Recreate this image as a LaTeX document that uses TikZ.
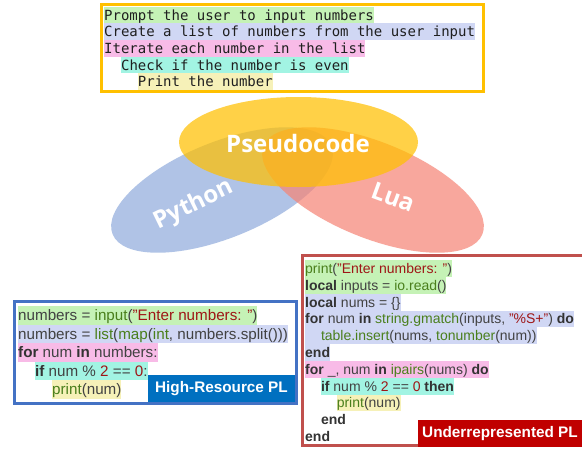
\documentclass[tikz,border=0pt]{standalone}
\usepackage{fontspec}
\setmainfont{Liberation Sans}
\newfontfamily\pmono{DejaVu Sans Mono}
\newfontfamily\elfont{Open Sans}
\definecolor{boxyellow}{HTML}{FFC000}
\definecolor{boxblue}{HTML}{4472C4}
\definecolor{boxred}{HTML}{C0504D}
\definecolor{labblue}{HTML}{0070C0}
\definecolor{labred}{HTML}{C00000}
\definecolor{ellblue}{HTML}{8FAADC}
\definecolor{ellred}{HTML}{F68374}
\definecolor{ellyellow}{HTML}{FFC000}
\definecolor{hgreen}{HTML}{C5F2B6}
\definecolor{hlav}{HTML}{D0D7F4}
\definecolor{hpink}{HTML}{F8BBE7}
\definecolor{haqua}{HTML}{A2F4E3}
\definecolor{hyel}{HTML}{F6F1B8}
\definecolor{codec}{HTML}{424242}
\definecolor{kwc}{HTML}{333333}
\definecolor{fnc}{HTML}{4A7F1C}
\definecolor{stc}{HTML}{9E1616}
\newcommand{\ckw}[1]{{\bfseries\color{kwc}#1}}
\newcommand{\cfn}[1]{{\color{fnc}#1}}
\newcommand{\cst}[1]{{\color{stc}#1}}
\begin{document}
\begin{tikzpicture}[x=1pt,y=-1pt,
  pline/.style={anchor=north west, inner sep=0pt, text height=13.5pt, text depth=3.1pt,
    font=\pmono\fontsize{14}{16}\selectfont, text=black!88},
  pyline/.style={anchor=north west, inner sep=0pt, text height=14.3pt, text depth=4.2pt,
    font=\fontsize{15.2}{18}\selectfont, text=codec},
  lualine/.style={anchor=north west, inner sep=0pt, text height=13.2pt, text depth=3.6pt,
    font=\fontsize{14}{16}\selectfont, text=codec},
  ellname/.style={text=white, font=\elfont\bfseries\fontsize{24}{28}\selectfont, inner sep=0pt},
  tagbox/.style={text=white, font=\bfseries\fontsize{15.3}{18}\selectfont, inner sep=0pt, minimum height=27pt}]
\useasboundingbox (0,0) rectangle (582,448);
\clip (0,0) rectangle (582,448);
\fill[white] (0,0) rectangle (582,448);

% ellipses
\fill[ellblue, opacity=0.7, rotate around={22:(222,190)}] (222,190) ellipse [x radius=118, y radius=48];
\fill[ellred, opacity=0.7, rotate around={-22:(373,190)}] (373,190) ellipse [x radius=118, y radius=48];
\fill[ellyellow, opacity=0.72] (298.5,142) ellipse [x radius=119.5, y radius=45];
\node[ellname] (pseudo) at (298,143) {Pseudocode};
\node[ellname, rotate=26] (python) at (194,205) {Python};
\node[ellname, rotate=-20] (lua) at (393,197) {Lua};

% pseudocode box
\draw[boxyellow, line width=3pt] (101.5,4.5) rectangle (483.5,91.5);
\node[pline, fill=hgreen] (p1) at (104,6.5) {Prompt the user to input numbers};
\node[pline, fill=hlav] (p2) at (104,23.1) {Create a list of numbers from the user input};
\node[pline, fill=hpink] (p3) at (104,39.7) {Iterate each number in the list};
\node[pline, fill=haqua] (p4) at (120.9,56.3) {Check if the number is even};
\node[pline, fill=hyel] (p5) at (137.7,72.9) {Print the number};

% python box
\draw[boxblue, line width=3pt] (14.5,301.5) rectangle (296.5,403.5);
\node[pyline, fill=hgreen] (y1) at (18,306) {numbers = \cfn{input}(\cst{"Enter numbers: "})};
\node[pyline, fill=hlav] (y2) at (18,324.5) {numbers = \cfn{list}(\cfn{map}(\cfn{int}, numbers.split()))};
\node[pyline, fill=hpink] (y3) at (18,343) {\ckw{for} num \ckw{in} numbers:};
\node[pyline, fill=haqua] (y4) at (35,361.5) {\ckw{if} num \% \cst{2} == \cst{0}:};
\node[pyline, fill=hyel] (y5) at (52,380) {\cfn{print}(num)};
\node[tagbox, fill=labblue, minimum width=147pt] (hr) at (221.5,388.5) {High-Resource PL};

% lua box
\draw[boxred, line width=3pt] (302.5,255.5) rectangle (592,445.5);
\node[lualine, fill=hgreen] (l1) at (305,260) {\cfn{print}(\cst{"Enter numbers: "})};
\node[lualine, fill=hgreen] (l2) at (305,276.8) {\ckw{local} inputs = \cfn{io.read}()};
\node[lualine, fill=hlav] (l3) at (305,293.6) {\ckw{local} nums = \{\}};
\node[lualine, fill=hlav] (l4) at (305,310.4) {\ckw{for} num \ckw{in} \cfn{string.gmatch}(inputs, \cst{"\%S+"}) \ckw{do}};
\node[lualine, fill=hlav] (l5) at (305,327.2) {\hspace*{15.8pt}\cfn{table.insert}(nums, \cfn{tonumber}(num))};
\node[lualine, fill=hlav] (l6) at (305,344) {\ckw{end}};
\node[lualine, fill=hpink] (l7) at (305,360.8) {\ckw{for} \_, num \ckw{in} \cfn{ipairs}(nums) \ckw{do}};
\node[lualine, fill=haqua] (l8) at (320.8,377.6) {\ckw{if} num \% \cst{2} == \cst{0} \ckw{then}};
\node[lualine, fill=hyel] (l9) at (336.6,394.4) {\cfn{print}(num)};
\node[lualine] (l10) at (320.8,411.2) {\ckw{end}};
\node[lualine] (l11) at (305,428) {\ckw{end}};
\node[tagbox, fill=labred, minimum width=164pt] (ur) at (500,433.5) {Underrepresented PL};
\end{tikzpicture}
\end{document}
